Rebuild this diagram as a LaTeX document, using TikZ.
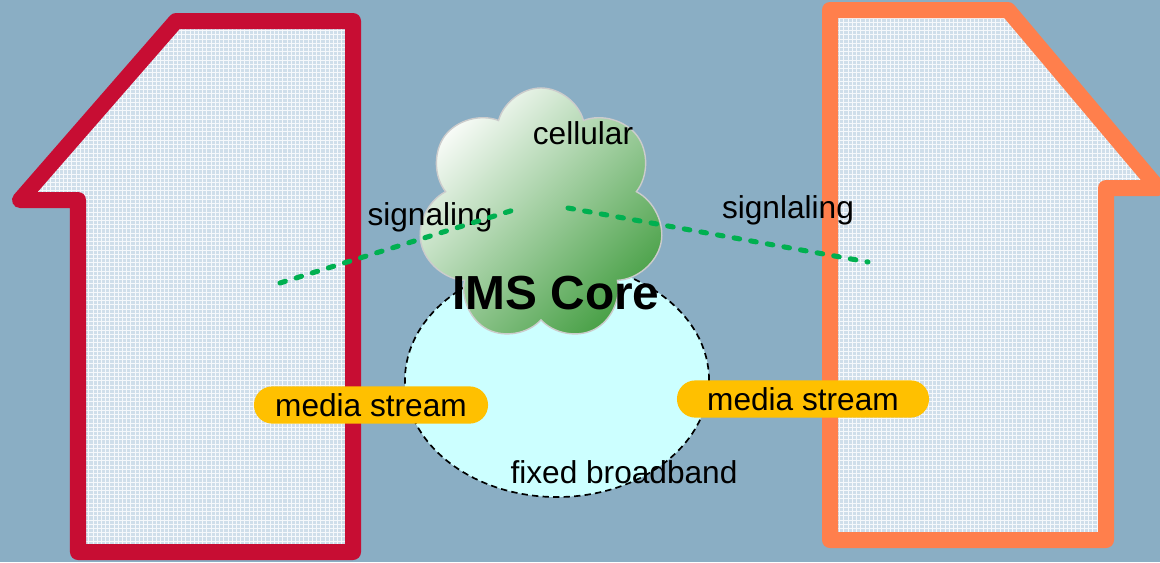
\documentclass[tikz,border=0pt]{standalone}
\usepackage{fontspec}
\setmainfont{Liberation Sans}
\usetikzlibrary{shapes.symbols,shapes.geometric,patterns}
\definecolor{sky}{HTML}{8AAEC4}
\definecolor{homered}{HTML}{C70D33}
\definecolor{homeorange}{HTML}{FF7F4C}
\definecolor{wall}{HTML}{CFDEEA}
\definecolor{fixednet}{HTML}{CCFFFF}
\definecolor{sig}{HTML}{00B050}
\definecolor{media}{HTML}{FFC000}
\definecolor{leaf}{HTML}{48A046}
\tikzset{
  house/.style={line width=0.4cm, line join=round},
  txt/.style={font=\fontsize{22.5}{27}\selectfont, inner sep=0pt},
  core/.style={font=\bfseries\fontsize{34}{40}\selectfont, inner sep=0pt},
  stream/.style={txt, fill=media, rounded corners=0.46cm, minimum height=0.93cm},
  sigline/.style={draw=sig, line width=3.6pt, dash pattern=on 4pt off 8pt, line cap=round},
}

\begin{document}
\begin{tikzpicture}[x=0.025cm, y=-0.025cm]
  \useasboundingbox (0,0) rectangle (1160,562);
  \fill[sky] (0,0) rectangle (1160,562);
  % the two homes
  \path[fill=wall, postaction={pattern=grid, pattern color=white!80!wall}]
    (176,21) -- (353,21) -- (353,552) -- (78,552) -- (78,200) -- (20,200) -- cycle
    (830,10) -- (1008,10) -- (1158,188) -- (1106,188) -- (1106,540) -- (830,540) -- cycle;
  \draw[house, draw=homered] (176,21) -- (353,21) -- (353,552) -- (78,552) -- (78,200) -- (20,200) -- cycle;
  \draw[house, draw=homeorange] (830,10) -- (1008,10) -- (1158,188) -- (1106,188) -- (1106,540) -- (830,540) -- cycle;
  % networks
  \node[ellipse, draw, fill=fixednet, line width=1.2pt, dash pattern=on 4.5pt off 3pt,
    minimum width=7.6cm, minimum height=5.85cm] (fixed) at (557,380) {};
  \node[cloud, cloud puffs=7, cloud ignores aspect, draw=black!20, line width=1pt,
    shading=axis, top color=white!96!leaf, bottom color=leaf, shading angle=45,
    minimum width=6.15cm, minimum height=6.35cm] (cell) at (541,215) {};
  % signaling paths
  \coordinate (sigA) at (280,283);
  \coordinate (sigB) at (520,208);
  \coordinate (sigC) at (568,208);
  \coordinate (sigD) at (868,262);
  \node[txt] (sigtxtA) at (430,217) {signaling};
  \node[txt] (sigtxtB) at (788,210) {signlaling};
  \draw[sigline] (sigA) -- (sigB);
  \draw[sigline] (sigC) -- (sigD);
  \node[txt] (celltxt) at (583,133) {cellular};
  \node[core] (coretxt) at (556,293) {IMS Core};
  \node[txt] (fixedtxt) at (624,472) {fixed broadband};
  % media
  \node[stream, minimum width=5.85cm] (mediaA) at (371,405) {media stream};
  \node[stream, minimum width=6.3cm] (mediaB) at (803,399) {media stream};
\end{tikzpicture}
\end{document}
